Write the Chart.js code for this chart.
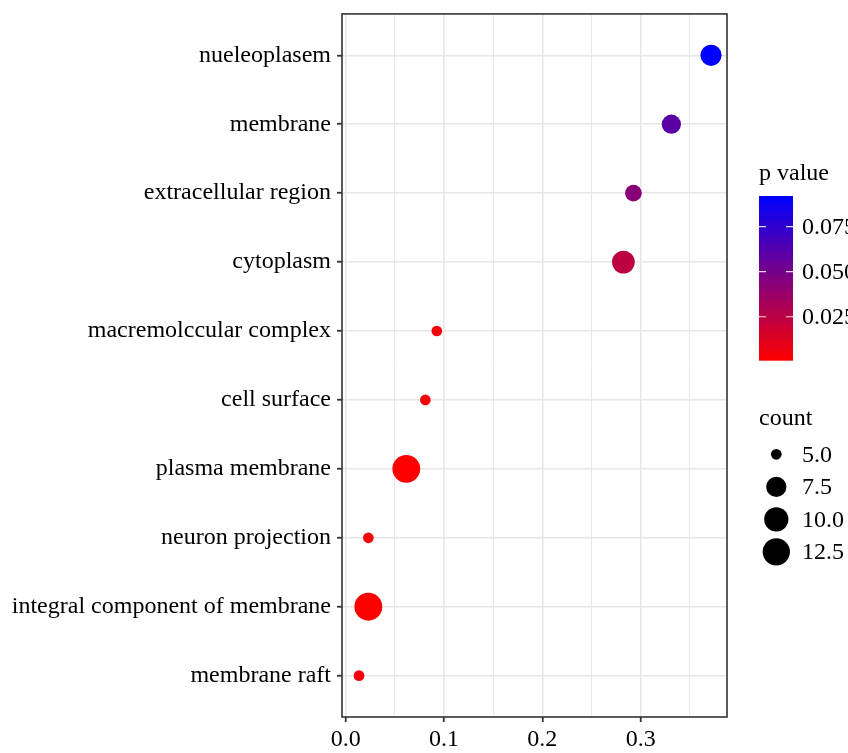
<!DOCTYPE html>
<html><head><meta charset="utf-8">
<script src="https://cdn.jsdelivr.net/npm/chart.js@4/dist/chart.umd.min.js"></script>
<style>html,body{margin:0;padding:0;background:#fff}#wrap{width:848px;height:753px;position:relative}</style>
</head><body><div id="wrap"><canvas id="c" width="848" height="753"></canvas></div>
<script>
// ---- data (top to bottom) ----
const categories = ["nueleoplasem","membrane","extracellular region","cytoplasm","macremolccular complex","cell surface","plasma membrane","neuron projection","integral component of membrane","membrane raft"];
const ratios  = [0.3716, 0.3312, 0.2926, 0.2824, 0.0926, 0.0810, 0.0616, 0.0230, 0.0230, 0.0135];
const counts  = [8, 7, 6, 9, 5, 5, 13, 5, 13, 5];
const pValues = [0.092, 0.060, 0.0436, 0.0244, 0.004, 0.003, 0.0006, 0.002, 0.001, 0.005];
const xTickValues = [0, 0.05, 0.1, 0.15, 0.2, 0.25, 0.3, 0.35];
const pLegendTicks = [0.025, 0.050, 0.075];
const countLegendValues = [5.0, 7.5, 10.0, 12.5];

const FONT = '"Liberation Serif", "Times New Roman", serif';
const cMin = Math.min(...counts), cMax = Math.max(...counts);
const pMin = Math.min(...pValues), pMax = Math.max(...pValues);
function diam(c){ return 10.7 + 17.15*Math.sqrt(Math.max(0,(c-cMin)/(cMax-cMin))); }
function pColor(p){
  const t = Math.min(1, Math.max(0, (p-pMin)/(pMax-pMin)));
  return `rgb(${Math.round(255*(1-t))},0,${Math.round(255*t)})`;
}
const isMajor = v => Math.abs(v*10 - Math.round(v*10)) < 1e-6;

const legendPlugin = {
  id: 'legends',
  afterDatasetsDraw(chart){
    const ctx = chart.ctx, a = chart.chartArea;
    ctx.save();
    ctx.strokeStyle = '#333'; ctx.lineWidth = 1.6;
    ctx.strokeRect(a.left, a.top, a.right-a.left, a.bottom-a.top);
    ctx.restore();
  },
  afterDraw(chart){
    const ctx = chart.ctx;
    ctx.save();
    ctx.font = '24px ' + FONT; ctx.fillStyle = '#000';
    ctx.textBaseline = 'middle'; ctx.textAlign = 'left';
    // p value colourbar
    ctx.fillText('p value', 759, 174);
    const bx = 759, bw = 34, bTop = 196, bBot = 360.7;
    const g = ctx.createLinearGradient(0, bBot, 0, bTop);
    const n = 20;
    for(let i=0;i<=n;i++){ g.addColorStop(i/n, pColor(pMin + (pMax-pMin)*i/n)); }
    ctx.fillStyle = g; ctx.fillRect(bx, bTop, bw, bBot-bTop);
    const yOf = p => bBot - (p-pMin)/(pMax-pMin)*(bBot-bTop);
    ctx.strokeStyle = 'rgba(255,255,255,0.85)'; ctx.lineWidth = 1.2;
    pLegendTicks.forEach(p=>{
      const y = yOf(p);
      ctx.beginPath(); ctx.moveTo(bx, y); ctx.lineTo(bx+7, y);
      ctx.moveTo(bx+bw-7, y); ctx.lineTo(bx+bw, y); ctx.stroke();
      ctx.fillStyle = '#000'; ctx.fillText(p.toFixed(3), 802, y+1);
    });
    // count legend
    ctx.fillStyle = '#000';
    ctx.fillText('count', 759, 419);
    countLegendValues.forEach((v,i)=>{
      const y = 454.3 + i*32.5;
      ctx.beginPath(); ctx.arc(776.3, y, diam(v)/2, 0, Math.PI*2); ctx.fill();
      ctx.fillText(v.toFixed(1), 802, y+1);
    });
    ctx.restore();
  }
};

new Chart(document.getElementById('c'), {
  type: 'scatter',
  data: {
    datasets: [{
      data: categories.map((c,i)=>({x: ratios[i], y: i+1})),
      pointRadius: ctx => diam(counts[ctx.dataIndex])/2,
      pointBackgroundColor: ctx => pColor(pValues[ctx.dataIndex]),
      pointBorderWidth: 0,
      pointHoverRadius: ctx => diam(counts[ctx.dataIndex])/2,
      clip: false
    }]
  },
  options: {
    responsive: false, animation: false, devicePixelRatio: 1, events: [],
    layout: { padding: { top: 13.5, right: 121, bottom: 0, left: 0 } },
    plugins: { legend: { display: false }, tooltip: { enabled: false } },
    scales: {
      x: {
        type: 'linear', min: -0.0038, max: 0.3878,
        afterBuildTicks: s => { s.ticks = xTickValues.map(v=>({value:v})); },
        afterFit: s => { s.height = 36; s.paddingLeft = 0; s.paddingRight = 0; },
        border: { display: false },
        grid: {
          color: '#e6e6e6',
          lineWidth: c => isMajor(c.tick.value) ? 1.5 : 0.9,
          tickColor: c => isMajor(c.tick.value) ? '#333' : 'rgba(0,0,0,0)',
          tickLength: 5, tickWidth: 1.8
        },
        ticks: {
          autoSkip: false, maxRotation: 0, padding: 3,
          color: '#000', font: { family: FONT, size: 24 },
          callback: v => isMajor(v) ? v.toFixed(1) : ''
        }
      },
      y: {
        type: 'linear', reverse: true, min: 0.4, max: 10.6,
        afterBuildTicks: s => { s.ticks = categories.map((_,i)=>({value:i+1})); },
        afterFit: s => { s.width = 342; s.paddingTop = 0; s.paddingBottom = 0; },
        border: { display: false },
        grid: { color: '#e6e6e6', lineWidth: 1.5, tickColor: '#333', tickLength: 5, tickWidth: 1.8 },
        ticks: {
          autoSkip: false, padding: 6,
          color: '#000', font: { family: FONT, size: 24 },
          callback: v => categories[Math.round(v)-1]
        }
      }
    }
  },
  plugins: [legendPlugin]
});
</script></body></html>
